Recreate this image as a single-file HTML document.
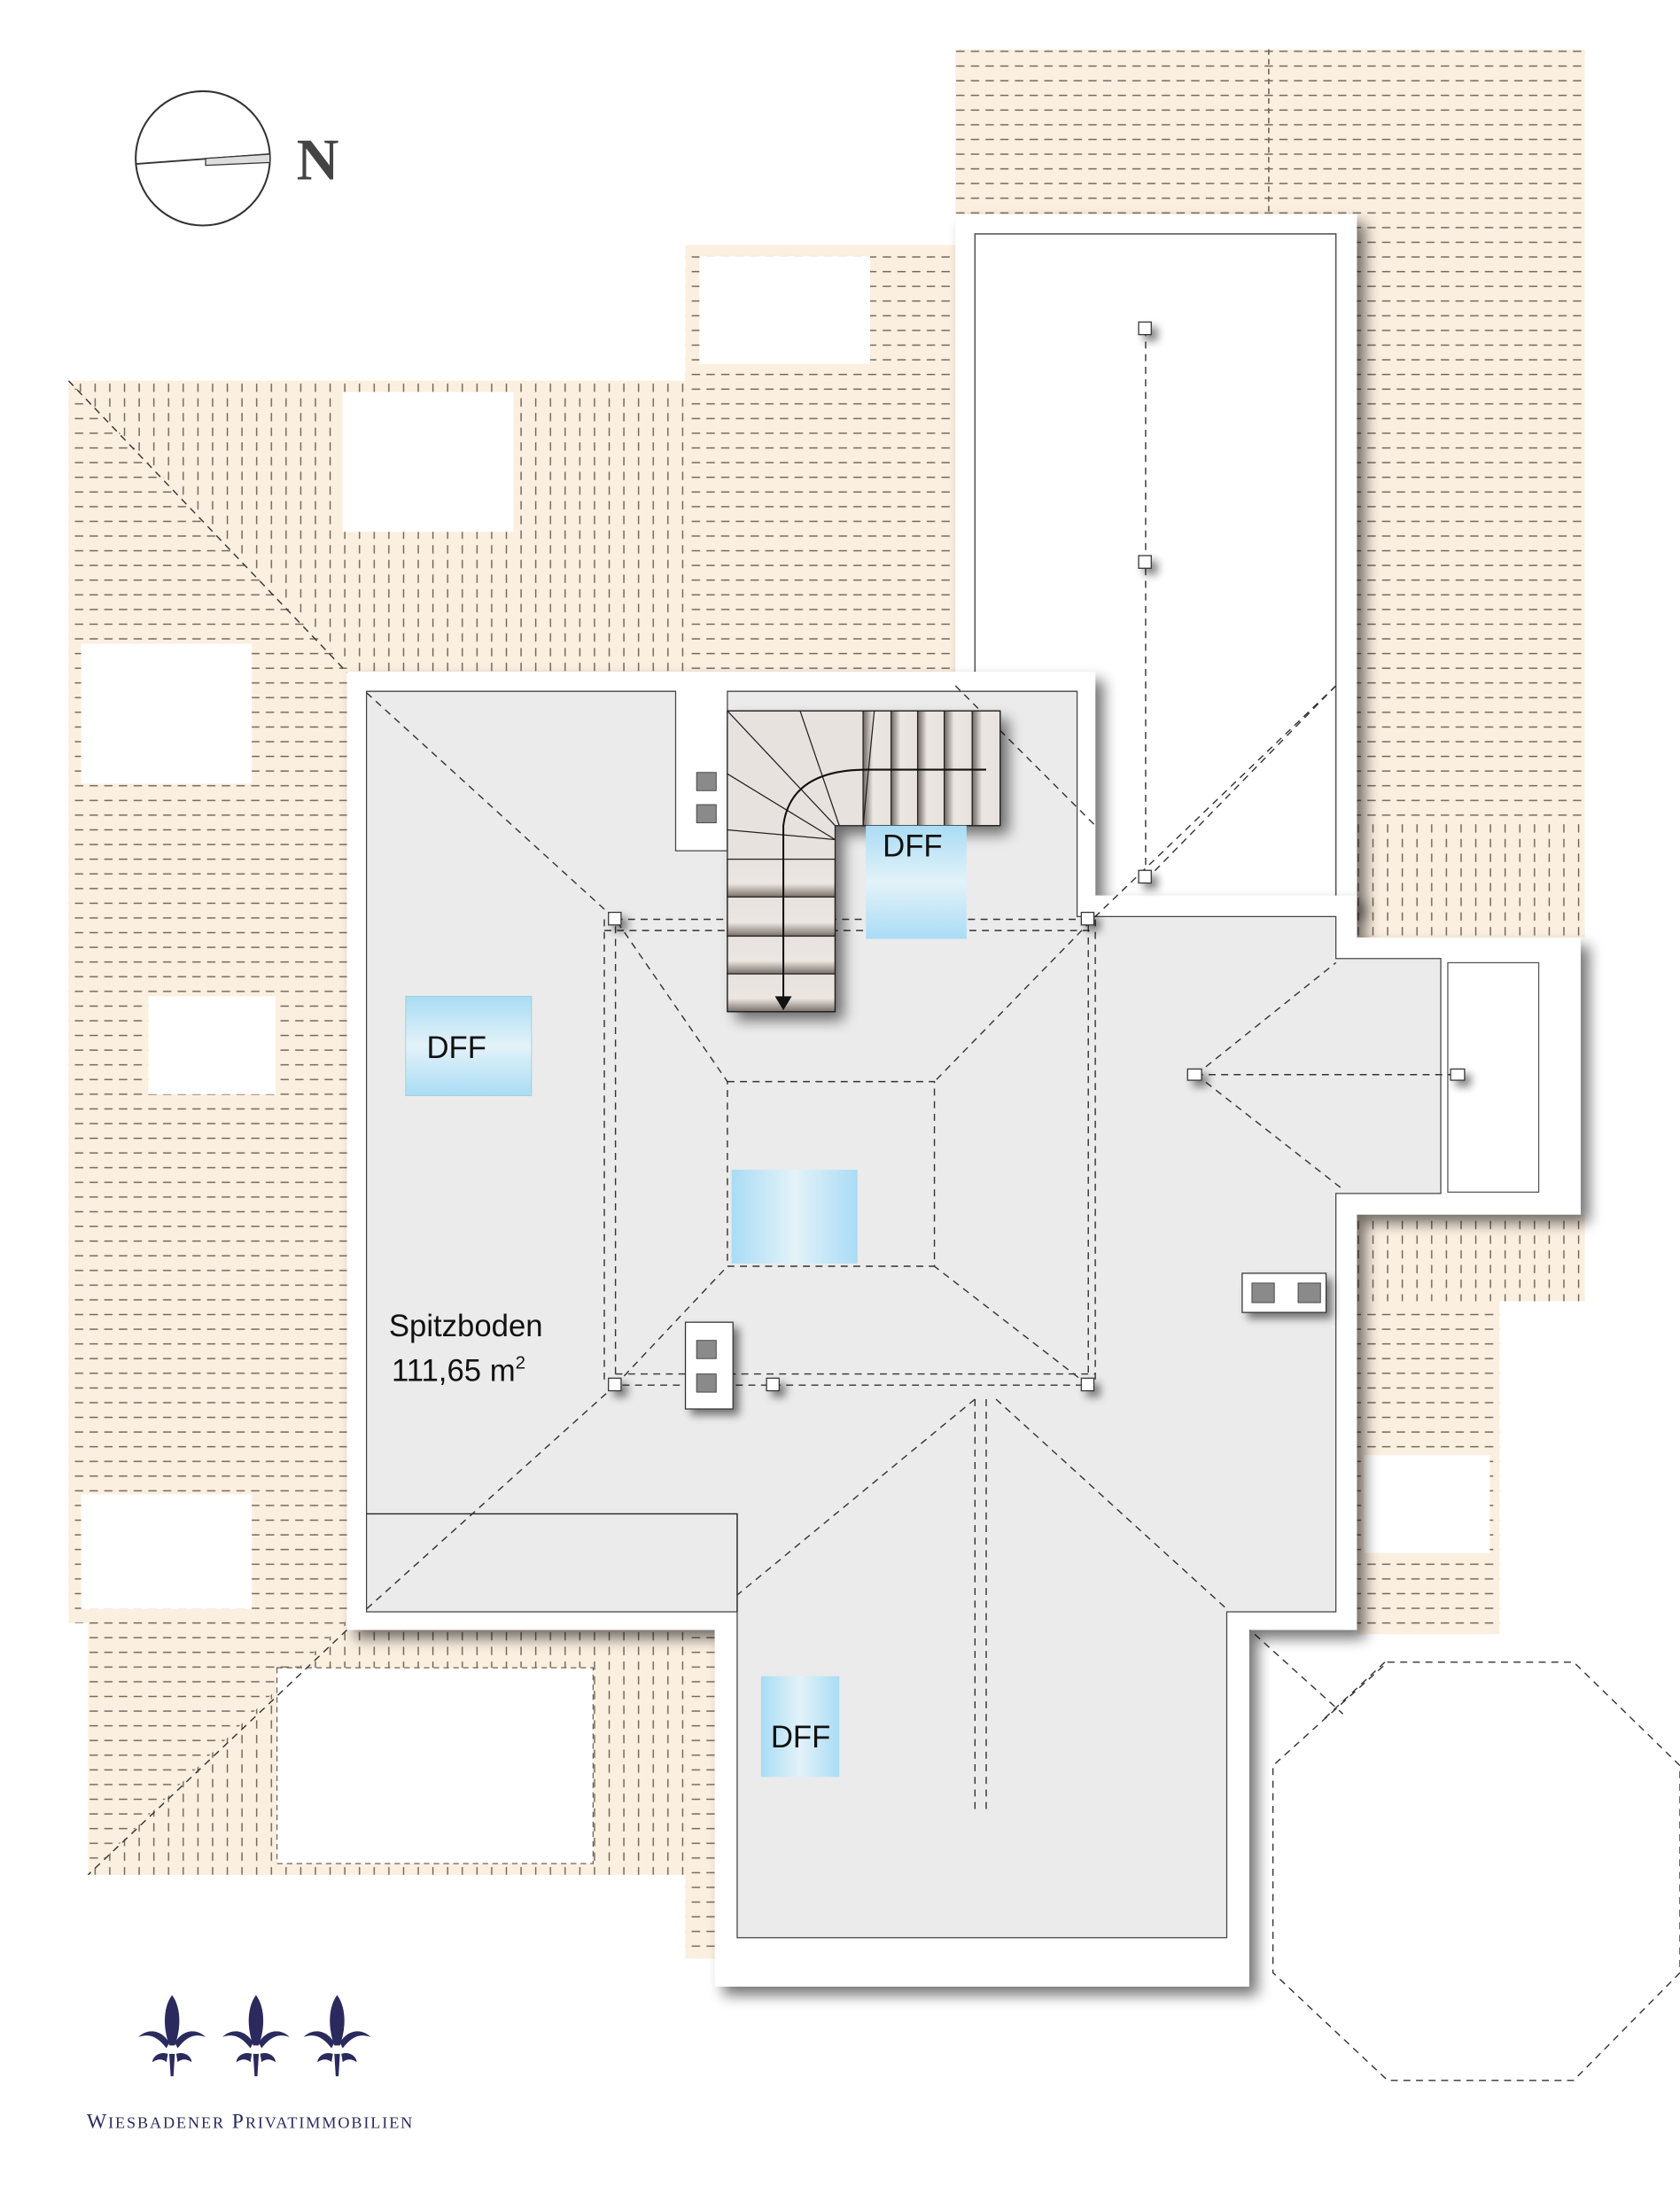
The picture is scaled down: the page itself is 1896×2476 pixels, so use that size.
<!DOCTYPE html>
<html><head><meta charset="utf-8"><style>
html,body{margin:0;padding:0;background:#fff;}
svg{display:block;}
</style></head><body>
<svg width="1896" height="2476" viewBox="0 0 1201 1568" xmlns="http://www.w3.org/2000/svg">
<defs>
<pattern id="ph" width="10.5" height="10.5" patternUnits="userSpaceOnUse">
<rect width="10.5" height="10.5" fill="#fbefe0"/>
<path d="M1 5 h6" stroke="#6e6356" stroke-width="0.9"/>
</pattern>
<pattern id="pv" width="10.5" height="10.5" patternUnits="userSpaceOnUse">
<rect width="10.5" height="10.5" fill="#fbefe0"/>
<path d="M5 1 v6" stroke="#6e6356" stroke-width="0.9"/>
</pattern>
<filter id="sh" x="-10%" y="-10%" width="130%" height="130%">
<feGaussianBlur in="SourceAlpha" stdDeviation="5"/>
<feOffset dx="6" dy="6"/>
<feComponentTransfer><feFuncA type="linear" slope="0.55"/></feComponentTransfer>
<feMerge><feMergeNode/><feMergeNode in="SourceGraphic"/></feMerge>
</filter>
<filter id="sh2" x="-30%" y="-30%" width="180%" height="180%">
<feGaussianBlur in="SourceAlpha" stdDeviation="3"/>
<feOffset dx="4" dy="4"/>
<feComponentTransfer><feFuncA type="linear" slope="0.5"/></feComponentTransfer>
<feMerge><feMergeNode/><feMergeNode in="SourceGraphic"/></feMerge>
</filter>
<linearGradient id="dff" x1="0" y1="0" x2="0" y2="1">
<stop offset="0" stop-color="#a9dcf5"/><stop offset="0.5" stop-color="#e3f2f8"/><stop offset="1" stop-color="#a9dcf5"/>
</linearGradient>
<linearGradient id="dffh" x1="0" y1="0" x2="1" y2="0">
<stop offset="0" stop-color="#a9dcf5"/><stop offset="0.5" stop-color="#e3f2f8"/><stop offset="1" stop-color="#a9dcf5"/>
</linearGradient>
<linearGradient id="tv" x1="0" y1="0" x2="1" y2="0">
<stop offset="0" stop-color="#6e6560"/><stop offset="0.35" stop-color="#ece6e2"/><stop offset="1" stop-color="#e8e2de"/>
</linearGradient>
<linearGradient id="th" x1="0" y1="0" x2="0" y2="1">
<stop offset="0" stop-color="#e8e2de"/><stop offset="0.65" stop-color="#ece6e2"/><stop offset="1" stop-color="#7a706a"/>
</linearGradient>
<g id="fl">
<path d="M0 -36 C6 -28 7 -14 2 0 L-2 0 C-7 -14 -6 -28 0 -36Z"/>
<path d="M-2 -2 C-8 -12 -18 -12 -24 -6 C-16 -9 -10 -6 -4 2Z"/>
<path d="M2 -2 C8 -12 18 -12 24 -6 C16 -9 10 -6 4 2Z"/>
<path d="M-3 6 C-9 4 -14 8 -14 12 C-10 9 -6 10 -4 12Z"/>
<path d="M3 6 C9 4 14 8 14 12 C10 9 6 10 4 12Z"/>
<path d="M-2 6 L2 6 L1 22 L-1 22Z"/>
</g>
</defs>

<!-- roof areas -->
<!-- top right horizontal -->
<rect x="683" y="35" width="450" height="555" fill="url(#ph)"/>
<rect x="970" y="588" width="163" height="82" fill="url(#pv)"/>
<path d="M907 35 V490" stroke="#6e6356" stroke-width="1" stroke-dasharray="4 3"/>
<!-- top middle -->
<rect x="490" y="175" width="195" height="310" fill="url(#ph)"/>
<!-- left big area -->
<polygon points="49,272 490,272 490,485 248,485 248,850 63,850 63,1160 49,1160" fill="url(#ph)"/>
<polygon points="49,272 490,272 490,485 248,485 248,475" fill="url(#pv)"/>
<polygon points="63,850 248,850 248,1160 63,1160" fill="url(#ph)"/>
<!-- bottom left -->
<polygon points="63,1158 511,1158 511,1400 490,1400 490,1340 63,1340" fill="url(#pv)"/>
<polygon points="63,1158 248,1158 63,1340" fill="url(#ph)"/>
<rect x="490" y="1158" width="21" height="242" fill="url(#ph)"/>
<!-- right lower strips -->
<rect x="970" y="868" width="163" height="62" fill="url(#pv)"/>
<rect x="970" y="930" width="102" height="238" fill="url(#ph)"/>
<!-- white openings -->
<rect x="500" y="183" width="122" height="77" fill="#fff"/>
<rect x="245" y="280" width="122" height="100" fill="#fff"/>
<rect x="58" y="460" width="122" height="100" fill="#fff"/>
<rect x="106" y="712" width="91" height="70" fill="#fff"/>
<rect x="58" y="1068" width="122" height="82" fill="#fff"/>
<rect x="198" y="1192" width="226" height="140" fill="#fff" stroke="#6e6356" stroke-width="0.8" stroke-dasharray="4 3"/>
<rect x="975" y="1040" width="90" height="70" fill="#fff"/>
<!-- diagonals in roof -->
<g stroke="#333" stroke-width="0.9" fill="none" stroke-dasharray="5 4">
<path d="M49 272 L262 495"/>
<path d="M248 1165 L63 1340"/>
<path d="M877 1150 L960 1225"/>
<polygon points="992,1188 1125,1188 1201,1262 1201,1410 1125,1487 992,1487 910,1410 910,1262"/>
<path d="M990 1188 L945 1230"/>
</g>

<!-- dormer -->
<g filter="url(#sh)">
<rect x="683" y="153" width="287" height="497" fill="#fff"/>
</g>
<rect x="697" y="167" width="258" height="476" fill="#fff" stroke="#555" stroke-width="1"/>

<!-- building -->
<g filter="url(#sh)">
<polygon points="248,480 783,480 783,640 970,640 970,670 1130,670 1130,868 970,868 970,1165 893,1165 893,1420 511,1420 511,1165 248,1165" fill="#fff"/>
</g>
<polygon points="262,494 483,494 483,608 520,608 520,494 770,494 770,655 955,655 955,685 1030,685 1030,853 955,853 955,1152 877,1152 877,1385 527,1385 527,1152 262,1152" fill="#ebebeb" stroke="#444" stroke-width="0.8"/>
<rect x="1035" y="688" width="65" height="164" fill="#fff" stroke="#555" stroke-width="0.8"/>
<path d="M262 1082 H527 V1152" stroke="#222" stroke-width="0.9" fill="none"/>

<!-- dashed roof lines inside -->
<g stroke="#333" stroke-width="0.9" fill="none" stroke-dasharray="5 4">
<path d="M262 495 L440 657 L520 773"/>
<path d="M683 490 L783 590"/>
<path d="M955 490 L783 655 L668 773"/>
<rect x="440" y="657" width="338" height="333"/>
<path d="M432 665 H783 M432 657 V990 M440 982 H783 M783 657 V990"/>
<rect x="520" y="773" width="148" height="132"/>
<path d="M440 990 L520 905 M778 990 L668 905"/>
<path d="M440 990 L262 1150"/>
<path d="M697 1000 L527 1140"/>
<path d="M712 1000 L877 1150"/>
<path d="M697 1000 V1295 M705 1000 V1295"/>
<path d="M855 768 H1042"/>
<path d="M855 768 L955 688 M855 768 L960 850"/>
<path d="M819 235 V627"/>
<path d="M955 490 L820 628"/>
</g>

<!-- small squares -->
<g fill="#fff" stroke="#333" stroke-width="0.8" filter="url(#sh2)">
<rect x="435" y="652" width="9" height="9"/>
<rect x="773" y="652" width="9" height="9"/>
<rect x="435" y="985" width="9" height="9"/>
<rect x="773" y="985" width="9" height="9"/>
<rect x="548" y="985" width="9" height="9"/>
<rect x="849" y="764" width="10" height="8"/>
<rect x="1037" y="764" width="10" height="8"/>
<rect x="814" y="230" width="9" height="9"/>
<rect x="814" y="397" width="9" height="9"/>
<rect x="814" y="622" width="9" height="9"/>
</g>

<!-- chimneys -->
<g filter="url(#sh2)">
<rect x="490" y="945" width="34" height="62" fill="#fff" stroke="#333" stroke-width="0.8"/>
<rect x="888" y="910" width="60" height="28" fill="#fff" stroke="#333" stroke-width="0.8"/>
</g>
<g fill="#8a8a8a" stroke="#444" stroke-width="0.6">
<rect x="498" y="552" width="14" height="13"/><rect x="498" y="575" width="14" height="13"/>
<rect x="498" y="958" width="14" height="13"/><rect x="498" y="982" width="14" height="13"/>
<rect x="895" y="917" width="16" height="14"/><rect x="928" y="917" width="16" height="14"/>
</g>

<!-- stairs -->
<g filter="url(#sh)">
<polygon points="520,508 715,508 715,590 597,590 597,723 520,723" fill="#e8e2de"/>
</g>
<g stroke="#222" stroke-width="0.8">
<rect x="617" y="508" width="20" height="82" fill="url(#tv)"/>
<rect x="637" y="508" width="19" height="82" fill="url(#tv)"/>
<rect x="656" y="508" width="19" height="82" fill="url(#tv)"/>
<rect x="675" y="508" width="20" height="82" fill="url(#tv)"/>
<rect x="695" y="508" width="20" height="82" fill="url(#tv)"/>
<rect x="520" y="614" width="77" height="27" fill="url(#th)"/>
<rect x="520" y="641" width="77" height="28" fill="url(#th)"/>
<rect x="520" y="669" width="77" height="27" fill="url(#th)"/>
<rect x="520" y="696" width="77" height="27" fill="url(#th)"/>
<path d="M520 508 L597 590 M572 508 L600 590 M625 508 L617 590 M520 553 L597 600 M520 593 L597 600 M520 508 H617" fill="none"/>
<polygon points="520,508 715,508 715,590 597,590 597,723 520,723" fill="none"/>
</g>
<path d="M705 550 H620 Q565 550 560 590 V715" stroke="#111" stroke-width="1.3" fill="none"/>
<polygon points="554,712 566,712 560,722" fill="#111"/>

<!-- DFF windows -->
<rect x="290" y="712" width="90" height="71" fill="url(#dff)" stroke="#9cc" stroke-width="0.5"/>
<rect x="523" y="836" width="90" height="67" fill="url(#dffh)"/>
<rect x="619" y="590" width="72" height="81" fill="url(#dff)"/>
<rect x="544" y="1198" width="56" height="72" fill="url(#dffh)"/>
<g font-family="Liberation Sans, sans-serif" font-size="22" fill="#111">
<text x="305" y="756">DFF</text>
<text x="631" y="612">DFF</text>
<text x="551" y="1249">DFF</text>
<text x="278" y="955">Spitzboden</text>
<text x="280" y="987">111,65 m<tspan font-size="13" dy="-9">2</tspan></text>
</g>

<!-- compass -->
<circle cx="145" cy="113" r="48" fill="none" stroke="#333" stroke-width="1.3"/>
<path d="M97 117 L193 110" stroke="#333" stroke-width="1.2"/>
<polygon points="147,113 193,110 193,116 147,118" fill="#ddd" stroke="#333" stroke-width="0.8"/>
<text x="212" y="128" font-family="Liberation Serif, serif" font-weight="bold" font-size="42" fill="#444">N</text>

<!-- logo -->
<g fill="#2b2a5e">
<use href="#fl" x="123" y="1462"/>
<use href="#fl" x="183" y="1462"/>
<use href="#fl" x="241" y="1462"/>
</g>
<text x="62" y="1521" font-family="Liberation Serif, serif" font-size="15" fill="#2b2a5e" letter-spacing="1.2">W<tspan font-size="11.5">IESBADENER</tspan> P<tspan font-size="11.5">RIVATIMMOBILIEN</tspan></text>
</svg>
</body></html>
